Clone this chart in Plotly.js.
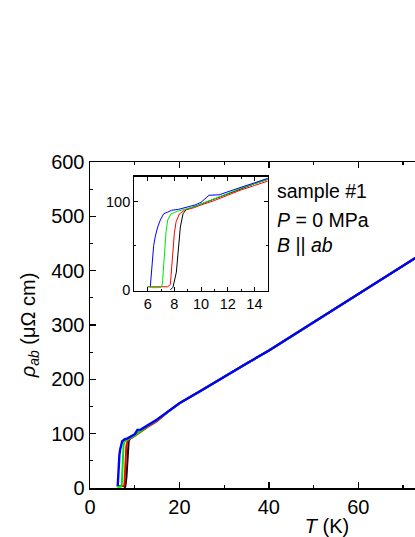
<!DOCTYPE html>
<html>
<head>
<meta charset="utf-8">
<script src="https://cdn.plot.ly/plotly-3.0.1.min.js"></script>
<style>
html, body { margin: 0; padding: 0; overflow: hidden; width: 415px; height: 537px; background: #fff; }
#chart { position: absolute; left: 0; top: 0; }
</style>
</head>
<body>
<div id="chart"></div>
<script>
// Temperature (K) and resistivity (µΩ cm)
const tailT   = [17.5, 20, 25, 30, 35, 40, 45, 50, 55, 60, 65, 70, 75, 80];
const tailRho = [141, 156, 180, 205, 229, 253, 279, 305, 331, 357, 383, 409, 435, 461];

const blackT   = [7.7, 7.9, 8.15, 8.35, 8.45, 8.65, 8.9, 9.3, 10, 11, 12, 13, 14, 15];
const blackRho = [0, 3, 20, 49, 71, 86, 91, 93, 97, 103, 109, 115, 120, 125];

const redT   = [6.0, 6.4, 7.0, 7.5, 7.7, 7.83, 8.0, 8.13, 8.38, 8.75, 9.5, 10, 11, 12, 13, 14, 15];
const redRho = [3.5, 3.5, 3.5, 3.5, 6, 34, 64, 77, 86, 90, 93, 96, 101, 107, 113, 118, 123];

const greenT   = [6.0, 6.3, 6.7, 7.0, 7.1, 7.25, 7.38, 7.5, 7.75, 8.25, 8.75, 9.5, 10, 11, 12, 13, 14, 15];
const greenRho = [4, 2.5, 2.5, 3, 6, 38, 66, 79, 86, 89, 91, 94, 97, 103, 109, 115, 120, 125];

const blueT   = [6.2, 6.33, 6.45, 6.58, 6.75, 6.95, 7.2, 7.5, 7.8, 8.3, 8.8, 9.55, 10.0, 10.3, 10.6, 11.35, 12.1, 13, 14, 15];
const blueRho = [4, 34, 50, 61, 71, 79, 86, 88, 90, 91, 93, 96, 99, 103, 107, 107.5, 111, 116, 121, 126];

const seriesNames  = ['black', 'red', 'green', 'blue'];
const seriesColors = ['#000000', '#ff0000', '#00e600', '#0000ff'];
const seriesT   = [blackT, redT, greenT, blueT];
const seriesRho = [blackRho, redRho, greenRho, blueRho];

const xTickVals = [0, 20, 40, 60];
const annotationLines = ['sample #1', '<i>P</i> = 0 MPa', '<i>B</i> || <i>ab</i>'];

const FONT = 'Liberation Sans, Arial, Helvetica, sans-serif';

const traces = [];
for (let i = 0; i < seriesNames.length; i++) {
  traces.push({
    x: seriesT[i].concat(tailT), y: seriesRho[i].concat(tailRho),
    type: 'scatter', mode: 'lines', name: seriesNames[i],
    line: { color: seriesColors[i], width: i === 3 ? 2.4 : 2 },
    xaxis: 'x', yaxis: 'y', hoverinfo: 'skip'
  });
}
for (let i = 0; i < seriesNames.length; i++) {
  traces.push({
    x: seriesT[i].concat(tailT), y: seriesRho[i].concat(tailRho),
    type: 'scatter', mode: 'lines', name: seriesNames[i] + ' (inset)',
    line: { color: seriesColors[i], width: 1 },
    xaxis: 'x2', yaxis: 'y2', hoverinfo: 'skip'
  });
}

const axisCommon = {
  showline: true, linecolor: '#000', linewidth: 1.5, mirror: 'allticks',
  ticks: 'inside', ticklen: 6, tickwidth: 1.3, tickcolor: '#000',
  showgrid: false, zeroline: false,
  tickfont: { family: FONT, size: 20, color: '#000' }
};

const layout = {
  width: 600, height: 537,
  margin: { l: 90, r: 36, t: 162, b: 49 },
  paper_bgcolor: '#fff', plot_bgcolor: '#fff',
  showlegend: false,
  font: { family: FONT, color: '#000' },
  xaxis: Object.assign({}, axisCommon, {
    range: [0, 106], tickmode: 'array', tickvals: xTickVals,
    minor: { dtick: 10, tick0: 0, ticks: 'inside', ticklen: 3, tickwidth: 1.2, tickcolor: '#000' },
    title: { text: '<i>T</i> (K)', font: { family: FONT, size: 20 }, standoff: 4 }
  }),
  yaxis: Object.assign({}, axisCommon, {
    range: [0, 600], dtick: 100, tick0: 0,
    minor: { dtick: 50, ticks: 'inside', ticklen: 3, tickwidth: 1.2, tickcolor: '#000' },
    title: { text: '<i>ρ</i><sub><i>ab</i></sub> (μΩ cm)', font: { family: FONT, size: 20 }, standoff: 10 }
  }),
  xaxis2: {
    domain: [0.0935, 0.375], anchor: 'y2', range: [5, 15], dtick: 2, tick0: 0,
    showline: true, linecolor: '#000', linewidth: 1.2, mirror: 'allticks',
    ticks: 'inside', ticklen: 4, tickwidth: 1, tickcolor: '#000',
    minor: { dtick: 1, ticks: 'inside', ticklen: 2, tickwidth: 1, tickcolor: '#000' },
    showgrid: false, zeroline: false,
    tickfont: { family: FONT, size: 14.5, color: '#000' }
  },
  yaxis2: {
    domain: [0.605, 0.955], anchor: 'x2', range: [-1, 128], dtick: 100, tick0: 0,
    showline: true, linecolor: '#000', linewidth: 1.2, mirror: 'allticks',
    ticks: 'inside', ticklen: 4, tickwidth: 1, tickcolor: '#000',
    minor: { dtick: 50, ticks: 'inside', ticklen: 2, tickwidth: 1, tickcolor: '#000' },
    showgrid: false, zeroline: false,
    tickfont: { family: FONT, size: 14.5, color: '#000' }
  },
  annotations: annotationLines.map(function (t, k) {
    return {
      text: t, xref: 'paper', yref: 'paper',
      x: 0.391, y: [0.911, 0.822, 0.745][k],
      xanchor: 'left', yanchor: 'middle', showarrow: false,
      font: { family: FONT, size: 19.5, color: '#000' }
    };
  })
};

Plotly.newPlot('chart', traces, layout, { staticPlot: true, displayModeBar: false });
</script>
</body>
</html>
